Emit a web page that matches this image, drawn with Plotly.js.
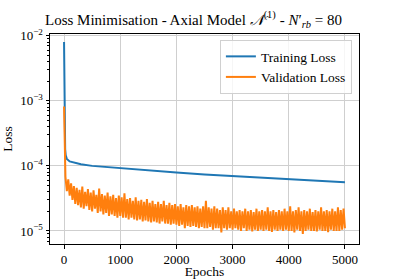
<!DOCTYPE html>
<html>
<head>
<meta charset="utf-8">
<script src="https://cdn.plot.ly/plotly-3.0.1.min.js"></script>
<style>
  html, body { margin: 0; padding: 0; background: #fff; }
  #graph { width: 399px; height: 279px; }
</style>
</head>
<body>
<div id="graph"></div>
<script>
// training loss (smooth) - epochs and values
const trainEpochs = [0, 2, 5, 10, 15, 20, 30, 50, 100, 200, 300, 500, 750, 1000,
  1500, 2000, 2500, 3000, 3500, 4000, 4500, 5000];
const trainLoss = [8.0e-3, 3.0e-3, 1.0e-3, 4.0e-4, 2.5e-4, 1.8e-4, 1.45e-4, 1.28e-4,
  1.17e-4, 1.1e-4, 1.06e-4, 1.0e-4, 9.6e-5, 9.2e-5, 8.5e-5, 7.9e-5, 7.4e-5,
  7.0e-5, 6.6e-5, 6.2e-5, 5.9e-5, 5.6e-5];

// validation loss, recorded every 25 epochs
const valEpochs = [
  0, 25, 50, 75, 100, 125, 150, 175, 200, 225,
  250, 275, 300, 325, 350, 375, 400, 425, 450, 475,
  500, 525, 550, 575, 600, 625, 650, 675, 700, 725,
  750, 775, 800, 825, 850, 875, 900, 925, 950, 975,
  1000, 1025, 1050, 1075, 1100, 1125, 1150, 1175, 1200, 1225,
  1250, 1275, 1300, 1325, 1350, 1375, 1400, 1425, 1450, 1475,
  1500, 1525, 1550, 1575, 1600, 1625, 1650, 1675, 1700, 1725,
  1750, 1775, 1800, 1825, 1850, 1875, 1900, 1925, 1950, 1975,
  2000, 2025, 2050, 2075, 2100, 2125, 2150, 2175, 2200, 2225,
  2250, 2275, 2300, 2325, 2350, 2375, 2400, 2425, 2450, 2475,
  2500, 2525, 2550, 2575, 2600, 2625, 2650, 2675, 2700, 2725,
  2750, 2775, 2800, 2825, 2850, 2875, 2900, 2925, 2950, 2975,
  3000, 3025, 3050, 3075, 3100, 3125, 3150, 3175, 3200, 3225,
  3250, 3275, 3300, 3325, 3350, 3375, 3400, 3425, 3450, 3475,
  3500, 3525, 3550, 3575, 3600, 3625, 3650, 3675, 3700, 3725,
  3750, 3775, 3800, 3825, 3850, 3875, 3900, 3925, 3950, 3975,
  4000, 4025, 4050, 4075, 4100, 4125, 4150, 4175, 4200, 4225,
  4250, 4275, 4300, 4325, 4350, 4375, 4400, 4425, 4450, 4475,
  4500, 4525, 4550, 4575, 4600, 4625, 4650, 4675, 4700, 4725,
  4750, 4775, 4800, 4825, 4850, 4875, 4900, 4925, 4950, 4975,
  5000];
const valLoss = [
  8.2e-4, 6.8e-5, 4.1e-5, 6.2e-5, 3.5e-5, 5.4e-5, 3.0e-5, 4.9e-5, 2.6e-5, 4.6e-5,
  2.5e-5, 4.3e-5, 2.3e-5, 4.8e-5, 2.2e-5, 4.0e-5, 2.4e-5, 4.4e-5, 2.1e-5, 3.9e-5,
  2.0e-5, 4.2e-5, 2.2e-5, 3.6e-5, 1.9e-5, 4.5e-5, 2.0e-5, 3.7e-5, 1.8e-5, 3.5e-5,
  1.9e-5, 3.9e-5, 1.7e-5, 3.4e-5, 1.8e-5, 3.6e-5, 1.7e-5, 3.2e-5, 1.6e-5, 3.5e-5,
  1.7e-5, 3.3e-5, 1.6e-5, 3.8e-5, 1.6e-5, 3.1e-5, 1.5e-5, 3.2e-5, 1.6e-5, 2.9e-5,
  1.5e-5, 3.3e-5, 1.45e-5, 2.9e-5, 1.5e-5, 3.0e-5, 1.4e-5, 2.8e-5, 1.45e-5, 3.1e-5,
  1.4e-5, 2.7e-5, 1.35e-5, 2.9e-5, 1.4e-5, 2.6e-5, 1.35e-5, 2.8e-5, 1.3e-5, 2.6e-5,
  1.4e-5, 2.9e-5, 1.3e-5, 2.5e-5, 1.3e-5, 2.7e-5, 1.25e-5, 2.5e-5, 1.3e-5, 2.6e-5,
  1.25e-5, 2.4e-5, 1.2e-5, 2.6e-5, 1.25e-5, 2.3e-5, 1.1e-5, 2.5e-5, 1.2e-5, 2.4e-5,
  1.15e-5, 2.5e-5, 1.2e-5, 2.3e-5, 1.15e-5, 2.4e-5, 1.1e-5, 2.2e-5, 1.15e-5, 2.4e-5,
  1.1e-5, 2.9e-5, 1.1e-5, 2.3e-5, 1.15e-5, 2.2e-5, 1.05e-5, 2.4e-5, 1.1e-5, 2.2e-5,
  1.1e-5, 2.1e-5, 9.5e-6, 2.3e-5, 1.1e-5, 2.1e-5, 1.05e-5, 2.3e-5, 1.1e-5, 2.0e-5,
  1.05e-5, 2.2e-5, 1.1e-5, 2.0e-5, 1.05e-5, 2.1e-5, 1.0e-5, 2.0e-5, 1.1e-5, 2.2e-5,
  1.0e-5, 2.0e-5, 1.05e-5, 2.1e-5, 9.8e-6, 1.95e-5, 1.05e-5, 2.2e-5, 1.0e-5, 2.0e-5,
  1.05e-5, 2.1e-5, 1.0e-5, 2.0e-5, 1.05e-5, 2.3e-5, 1.0e-5, 2.0e-5, 9.7e-6, 2.1e-5,
  1.05e-5, 1.95e-5, 1.0e-5, 2.1e-5, 1.05e-5, 2.0e-5, 1.0e-5, 2.2e-5, 1.05e-5, 2.0e-5,
  1.0e-5, 2.4e-5, 1.0e-5, 2.0e-5, 9.5e-6, 2.1e-5, 1.05e-5, 2.3e-5, 1.0e-5, 2.0e-5,
  9.0e-6, 2.1e-5, 1.0e-5, 2.0e-5, 1.05e-5, 2.2e-5, 1.0e-5, 1.95e-5, 1.0e-5, 2.1e-5,
  9.8e-6, 2.0e-5, 1.05e-5, 2.3e-5, 1.0e-5, 2.0e-5, 1.0e-5, 2.1e-5, 9.6e-6, 2.0e-5,
  1.05e-5, 2.2e-5, 1.0e-5, 2.0e-5, 1.0e-5, 2.3e-5, 1.0e-5, 2.1e-5, 1.05e-5, 2.2e-5,
  1.1e-5];

const xTicks = [0, 1000, 2000, 3000, 4000, 5000];
const yTicks = [1e-5, 1e-4, 1e-3, 1e-2];
const yTickText = ['10<sup>−5</sup>', '10<sup>−4</sup>', '10<sup>−3</sup>', '10<sup>−2</sup>'];
const yMinor = [
  7e-6, 8e-6, 9e-6,
  2e-5, 3e-5, 4e-5, 5e-5, 6e-5, 7e-5, 8e-5, 9e-5,
  2e-4, 3e-4, 4e-4, 5e-4, 6e-4, 7e-4, 8e-4, 9e-4,
  2e-3, 3e-3, 4e-3, 5e-3, 6e-3, 7e-3, 8e-3, 9e-3];

const font = 'Liberation Serif, DejaVu Serif, serif';

const traces = [
  {
    x: trainEpochs, y: trainLoss,
    mode: 'lines', type: 'scatter', name: 'Training Loss',
    line: { color: '#1f77b4', width: 2 }
  },
  {
    x: valEpochs, y: valLoss,
    mode: 'lines', type: 'scatter', name: 'Validation Loss',
    line: { color: '#ff7f0e', width: 2 }
  }
];

const layout = {
  width: 399, height: 279,
  margin: { l: 50, r: 40, t: 34, b: 35 },
  paper_bgcolor: '#fff', plot_bgcolor: '#fff',
  font: { family: font, size: 13, color: '#000' },
  showlegend: true,
  title: {
    text: 'Loss Minimisation - Axial Model <i>𝒩</i><sup>(1)</sup> - <i>N</i>′<sub><i>rb</i></sub> = 80',
    font: { family: font, size: 15, color: '#000' },
    x: 0.485, xanchor: 'center', y: 0.93, yanchor: 'middle'
  },
  xaxis: {
    range: [-250, 5250],
    tickvals: xTicks,
    ticks: 'outside', ticklen: 3.5, tickcolor: '#000',
    showline: true, linecolor: '#000', linewidth: 1, mirror: true,
    showgrid: true, gridcolor: '#cfcfcf', gridwidth: 1,
    zeroline: false,
    tickfont: { size: 13 },
    title: { text: 'Epochs', font: { size: 13.5 }, standoff: 3 }
  },
  yaxis: {
    type: 'log',
    range: [-5.2, -1.974],
    tickvals: yTicks, ticktext: yTickText,
    ticks: 'outside', ticklen: 3.5, tickcolor: '#000',
    showline: true, linecolor: '#000', linewidth: 1, mirror: true,
    showgrid: true, gridcolor: '#cfcfcf', gridwidth: 1,
    zeroline: false,
    tickfont: { size: 13 },
    minor: { tickvals: yMinor, ticks: 'outside', ticklen: 2, tickcolor: '#000', showgrid: false },
    title: { text: 'Loss', font: { size: 13.5 }, standoff: 4 }
  },
  legend: {
    x: 0.977, xanchor: 'right', y: 0.971, yanchor: 'top',
    bgcolor: 'rgba(255,255,255,0.8)', bordercolor: '#d0d0d0', borderwidth: 1,
    font: { size: 13.5 },
    itemwidth: 30,
    tracegroupgap: 0
  }
};

Plotly.newPlot('graph', traces, layout, { staticPlot: true, displayModeBar: false });
</script>
</body>
</html>
